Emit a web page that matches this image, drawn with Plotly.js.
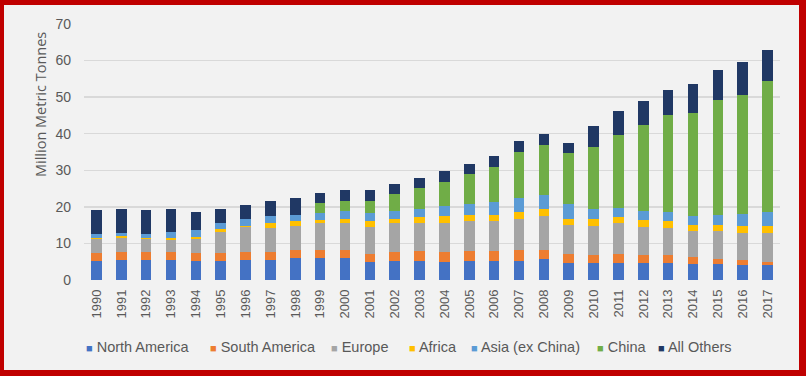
<!DOCTYPE html>
<html>
<head>
<meta charset="utf-8">
<script src="https://cdn.plot.ly/plotly-3.0.1.min.js"></script>
<style>
  html, body { margin: 0; padding: 0; background: #f2f2f2; }
  #wrap { position: relative; width: 806px; height: 376px; overflow: hidden; }
  #chart { position: absolute; left: 0; top: 0; width: 806px; height: 376px; }
  #frame { position: absolute; left: 0; top: 0; width: 806px; height: 376px; box-sizing: border-box;
           border-style: solid; border-color: #c00000; border-width: 5px 7px 6px 4px; pointer-events: none; }
</style>
</head>
<body>
<div id="wrap"><div id="chart"></div><div id="frame"></div></div>
<script>
const years = ["1990","1991","1992","1993","1994","1995","1996","1997","1998","1999","2000","2001","2002","2003","2004","2005","2006","2007","2008","2009","2010","2011","2012","2013","2014","2015","2016","2017"];
const northAmerica = [5.3,5.6,5.6,5.6,5.3,5.3,5.6,5.6,6.1,6.1,6.1,5.0,5.3,5.3,5.0,5.3,5.3,5.3,5.8,4.6,4.6,4.6,4.6,4.6,4.3,4.3,4.0,4.0];
const southAmerica = [2.1,2.1,2.1,2.1,2.2,2.2,2.1,2.1,2.1,2.1,2.1,2.1,2.3,2.5,2.6,2.5,2.5,2.9,2.4,2.5,2.2,2.5,2.2,2.2,1.9,1.5,1.4,1.0];
const europe =       [3.7,3.7,3.5,3.2,3.6,5.7,6.7,6.6,6.6,7.3,7.3,7.5,7.9,7.9,8.1,8.2,8.2,8.6,9.3,8.0,8.1,8.4,7.8,7.4,7.1,7.5,7.5,7.9];
const africa =       [0.4,0.6,0.3,0.6,0.7,0.7,0.5,1.4,1.3,0.9,1.3,1.5,1.3,1.5,1.8,1.8,1.8,1.8,1.8,1.7,1.9,1.7,1.8,1.8,1.8,1.8,1.8,1.8];
const asiaExChina =  [1.0,0.9,1.2,1.7,1.8,1.7,1.7,1.8,1.6,2.0,2.2,2.1,2.2,2.3,2.8,3.0,3.6,3.7,4.0,4.0,2.5,2.4,2.4,2.5,2.4,2.7,3.4,3.8];
const china =        [0,0,0,0,0,0,0,0,0,2.6,2.7,3.5,4.5,5.6,6.6,8.2,9.6,12.6,13.6,14.0,17.1,20.0,23.6,26.5,28.3,31.4,32.4,35.9];
const allOthers =    [6.6,6.6,6.4,6.3,5.1,3.9,3.9,4.0,4.8,2.7,2.8,2.8,2.7,2.8,2.8,2.8,2.8,3.0,3.1,2.7,5.6,6.6,6.5,7.0,7.9,8.3,9.0,8.6];
const yTicks = [0,10,20,30,40,50,60,70];

const seriesNames = ["North America","South America","Europe","Africa","Asia (ex China)","China","All Others"];
const seriesValues = [northAmerica, southAmerica, europe, africa, asiaExChina, china, allOthers];
const colors = ["#4472c4","#ed7d31","#a5a5a5","#ffc000","#5b9bd5","#70ad47","#203864"];

const traces = seriesNames.map((n, i) => ({
  type: "bar", name: n, x: years, y: seriesValues[i],
  marker: { color: colors[i], line: { width: 0 } }, hoverinfo: "x+y+name", showlegend: false
}));

// legend drawn as text annotations (compact Excel-style legend)
const legendX = [0.0, 0.178, 0.352, 0.464, 0.553, 0.734, 0.822];
const legendAnn = seriesNames.map((n, i) => ({
  text: '<span style="color:' + colors[i] + ';font-size:11px">■</span> ' + n,
  xref: "paper", yref: "paper", x: legendX[i], y: -0.262, xanchor: "left", yanchor: "middle",
  showarrow: false, font: { size: 14.5, color: "#595959" }
}));

const layout = {
  width: 806, height: 376,
  barmode: "stack", bargap: 0.58,
  paper_bgcolor: "#f2f2f2", plot_bgcolor: "#f2f2f2",
  margin: { l: 84, r: 26, t: 24, b: 96 },
  font: { family: "Liberation Sans, Arial, sans-serif", color: "#595959", size: 13 },
  xaxis: { type: "category", tickangle: -90, showgrid: false, zeroline: false, showline: false,
           ticks: "", tickfont: { size: 13, color: "#595959" }, ticklabelstandoff: 6, automargin: false },
  yaxis: { range: [0, 70], tickvals: yTicks, ticktext: yTicks.map(String), showgrid: true,
           gridcolor: "#d9d9d9", gridwidth: 1.5, zeroline: false, showline: false, ticks: "",
           tickfont: { size: 14, color: "#595959" }, ticklabelstandoff: 12, automargin: false },
  showlegend: false,
  annotations: [{ text: "Million Metric Tonnes", textangle: -90, xref: "paper", yref: "paper",
                  x: (40 - 84) / 696, y: (280 - 104) / 256, xanchor: "center", yanchor: "middle", showarrow: false,
                  font: { family: "Open Sans, sans-serif", size: 14.5, color: "#595959" } }].concat(legendAnn)
};

Plotly.newPlot("chart", traces, layout, { displayModeBar: false, staticPlot: true });
</script>
</body>
</html>
